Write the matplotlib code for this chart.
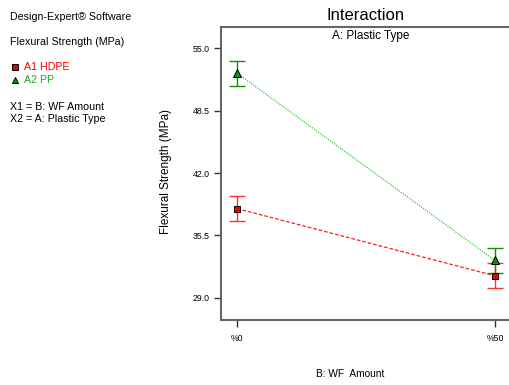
import matplotlib.pyplot as plt

plt.rcParams["font.family"] = ["Liberation Sans", "DejaVu Sans"]

levels = ["%0", "%50"]
hdpe_mean = [38.3, 31.3]
hdpe_err = [1.3, 1.3]
pp_mean = [52.4, 32.9]
pp_err = [1.3, 1.3]
yticks = [29.0, 35.5, 42.0, 48.5, 55.0]

fig = plt.figure(figsize=(5.1, 3.85), dpi=100)
ax = fig.add_axes([221 / 510, 65 / 385, 289 / 510, 293 / 385])

x = list(range(len(levels)))

# lines
ax.plot(x, hdpe_mean, color="#ff2020", ls=(0, (3, 1.5)), lw=0.9, zorder=2)
ax.plot(x, pp_mean, color="#33cc33", ls=(0, (1, 1)), lw=0.9, zorder=2)

# error bars
ax.errorbar(x, hdpe_mean, yerr=hdpe_err, fmt="none", ecolor="#ff3030",
            elinewidth=1.0, capsize=6, capthick=1.0, zorder=3)
ax.errorbar(x, pp_mean, yerr=pp_err, fmt="none", ecolor="#109010",
            elinewidth=1.0, capsize=6, capthick=1.0, zorder=3)

# markers
ax.plot(x, hdpe_mean, ls="none", marker="s", ms=5, mfc="#ee0000",
        mec="black", mew=0.7, zorder=4)
ax.plot(x, pp_mean, ls="none", marker="^", ms=6, mfc="#009900",
        mec="black", mew=0.7, zorder=4)

ax.set_xlim(-16 / 258, 1 + 15 / 258)
ax.set_ylim(26.7, 57.2)
ax.set_xticks(x)
ax.set_xticklabels(levels)
ax.set_yticks(yticks)
ax.set_yticklabels([f"{v:.1f}" for v in yticks])
ax.tick_params(labelsize=6.3, length=5, width=1, color="#333333", pad=3)
ax.tick_params(axis="x", pad=5)

for side in ["left", "top", "bottom"]:
    ax.spines[side].set_color("#666666")
    ax.spines[side].set_linewidth(1.5)
ax.spines["right"].set_visible(False)

fig.text(166 / 510, 1 - 171 / 385, "Flexural Strength (MPa)", fontsize=8.5,
         rotation=90, ha="center", va="center")
fig.text(366 / 510, 1 - 15 / 385, "Interaction", fontsize=12,
         ha="center", va="center")
fig.text(371 / 510, 1 - 36 / 385, "A: Plastic Type", fontsize=8.5,
         ha="center", va="center")
fig.text(350 / 510, 1 - 374 / 385, "B: WF  Amount", fontsize=7.3,
         ha="center", va="center")

# side legend text
fs = 7.7
fig.text(10 / 510, 1 - 17 / 385, "Design-Expert® Software", fontsize=fs, va="center")
fig.text(10 / 510, 1 - 42 / 385, "Flexural Strength (MPa)", fontsize=fs, va="center")
fig.text(24 / 510, 1 - 67 / 385, "A1 HDPE", fontsize=fs, va="center", color="#ff0000")
fig.text(24 / 510, 1 - 80 / 385, "A2 PP", fontsize=fs, va="center", color="#22aa22")
fig.lines.append(plt.Line2D([15 / 510], [1 - 67 / 385], transform=fig.transFigure,
                            marker="s", ms=4, mfc="#ee0000", mec="black", mew=0.7, ls="none"))
fig.lines.append(plt.Line2D([15 / 510], [1 - 80 / 385], transform=fig.transFigure,
                            marker="^", ms=4.5, mfc="#009900", mec="black", mew=0.7, ls="none"))
fig.text(10 / 510, 1 - 107 / 385, "X1 = B: WF Amount", fontsize=fs, va="center")
fig.text(10 / 510, 1 - 119 / 385, "X2 = A: Plastic Type", fontsize=fs, va="center")

fig.savefig("out.png", dpi=100)
